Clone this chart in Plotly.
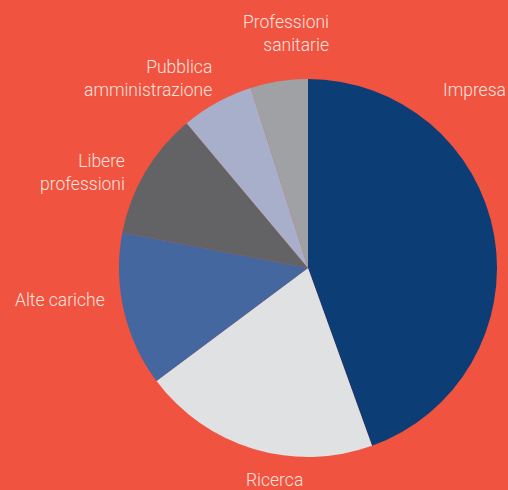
import plotly.graph_objects as go

categories = ["Impresa", "Ricerca", "Alte cariche", "Libere professioni",
              "Pubblica amministrazione", "Professioni sanitarie"]
values = [44.5, 20.3, 13.2, 10.9, 6.2, 4.9]
colors = ["#0D3D75", "#E0E1E3", "#44679F", "#636365", "#A8AFCA", "#A0A1A5"]

bg = "#F05340"
W, H = 508, 490
cx, cy, r = 308, 268, 189

fig = go.Figure(go.Pie(
    labels=categories, values=values, sort=False, direction="clockwise",
    rotation=0, marker=dict(colors=colors, line=dict(width=0)),
    textinfo="none", hoverinfo="label+percent", showlegend=False,
    domain=dict(x=[(cx - r) / W, (cx + r) / W], y=[1 - (cy + r) / H, 1 - (cy - r) / H]),
))

label_text = {
    "Impresa": "Impresa",
    "Ricerca": "Ricerca",
    "Alte cariche": "Alte cariche",
    "Libere professioni": "Libere<br>professioni",
    "Pubblica amministrazione": "Pubblica<br>amministrazione",
    "Professioni sanitarie": "Professioni<br>sanitarie",
}
label_pos = {
    "Impresa": (441, 90, "left"),
    "Ricerca": (274, 480, "center"),
    "Alte cariche": (13, 300, "left"),
    "Libere professioni": (127, 172, "right"),
    "Pubblica amministrazione": (214, 78, "right"),
    "Professioni sanitarie": (331, 33, "right"),
}
for c in categories:
    x, y, anc = label_pos[c]
    fig.add_annotation(
        x=x / W, y=1 - y / H, xref="paper", yref="paper",
        text=label_text[c], showarrow=False, xanchor=anc, yanchor="middle",
        align=anc, font=dict(family="Roboto", size=17.5, color="#FDE3DF", weight=300),
    )

fig.update_layout(
    width=W, height=H, margin=dict(l=0, r=0, t=0, b=0),
    paper_bgcolor=bg, plot_bgcolor=bg,
)
fig.write_html(
    "out.html",
    config={"displayModeBar": False},
    post_script="document.body.style.margin='0';document.body.style.background='" + bg + "';",
)
